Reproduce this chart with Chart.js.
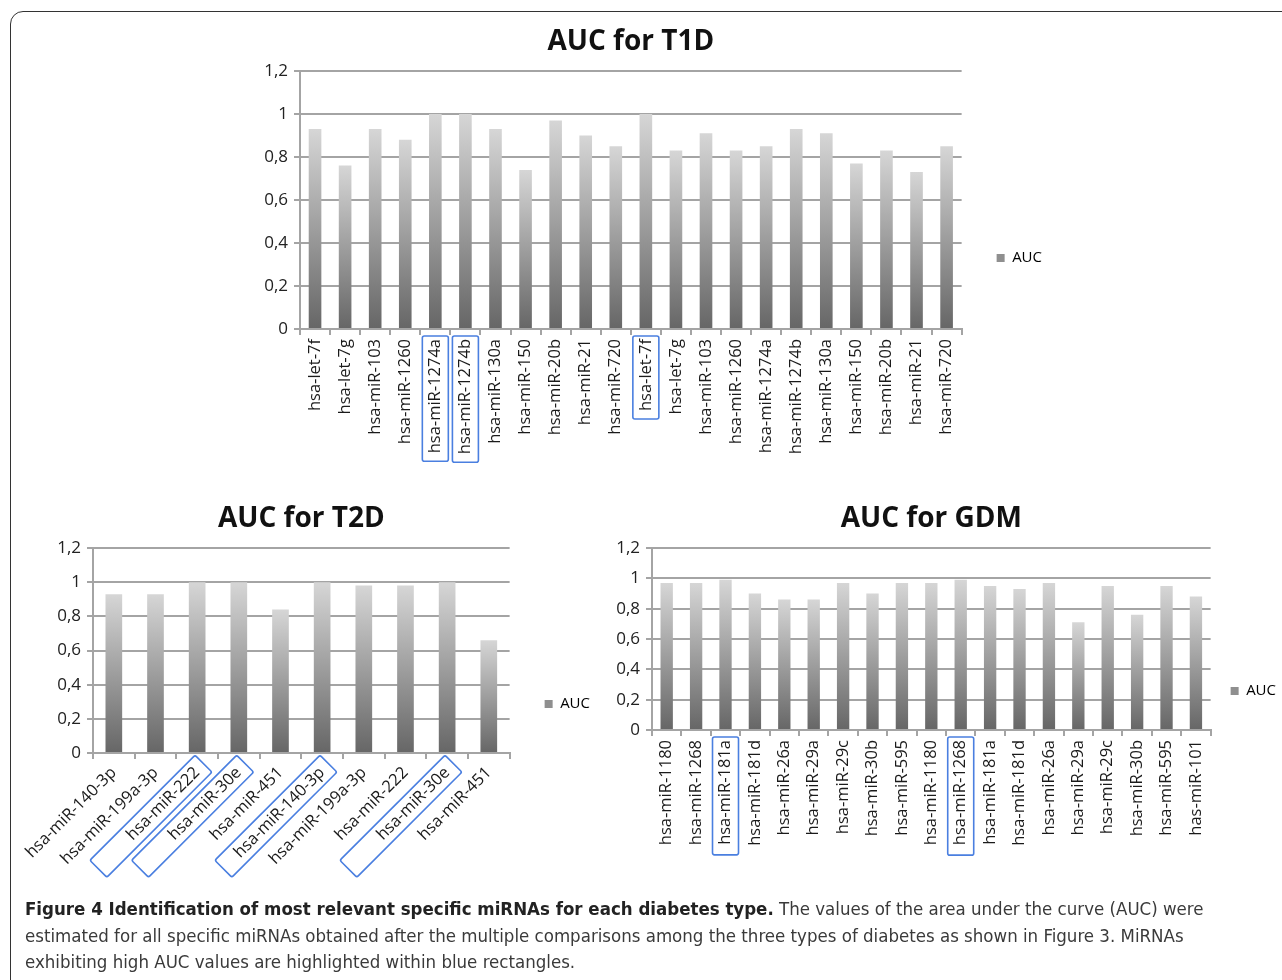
<!DOCTYPE html>
<html>
<head>
<meta charset="utf-8">
<script src="https://cdn.jsdelivr.net/npm/chart.js@4.4.1/dist/chart.umd.min.js"></script>
<style>
  html, body { margin: 0; padding: 0; background: #fff; overflow: hidden; width: 1282px; height: 980px; }
  .frame { position: absolute; left: 10px; top: 11px; width: 1320px; height: 1020px;
           border: 1.5px solid #333; border-radius: 13px; }
  canvas { position: absolute; }
  #caption { position: absolute; left: 25px; top: 896px; width: 1250px;
             font-family: "Liberation Sans Narrow", "DejaVu Sans Condensed", sans-serif;
             font-size: 18.5px; line-height: 26.5px; color: #3a3a3a; white-space: nowrap; }
  #caption b { color: #222; }
</style>
</head>
<body>
<div class="frame"></div>
<canvas id="t1d" width="802" height="476" style="left:250px; top:20px;"></canvas>
<canvas id="t2d" width="579" height="408" style="left:21px; top:500px;"></canvas>
<canvas id="gdm" width="694" height="382" style="left:592px; top:500px;"></canvas>
<div id="caption">
  <b>Figure 4 Identification of most relevant specific miRNAs for each diabetes type.</b> The values of the area under the curve (AUC) were<br>
  estimated for all specific miRNAs obtained after the multiple comparisons among the three types of diabetes as shown in Figure 3. MiRNAs<br>
  exhibiting high AUC values are highlighted within blue rectangles.
</div>
<script>
// tick labels of the value axis (comma decimals as in the figure)
const yTickLabels = ['0', '0,2', '0,4', '0,6', '0,8', '1', '1,2'];

const t1dLabels = ['hsa-let-7f', 'hsa-let-7g', 'hsa-miR-103', 'hsa-miR-1260', 'hsa-miR-1274a', 'hsa-miR-1274b',
    'hsa-miR-130a', 'hsa-miR-150', 'hsa-miR-20b', 'hsa-miR-21', 'hsa-miR-720',
    'hsa-let-7f', 'hsa-let-7g', 'hsa-miR-103', 'hsa-miR-1260', 'hsa-miR-1274a', 'hsa-miR-1274b',
    'hsa-miR-130a', 'hsa-miR-150', 'hsa-miR-20b', 'hsa-miR-21', 'hsa-miR-720'];
const t1dValues = [0.93, 0.76, 0.93, 0.88, 1.0, 1.0, 0.93, 0.74, 0.97, 0.90, 0.85,
    1.0, 0.83, 0.91, 0.83, 0.85, 0.93, 0.91, 0.77, 0.83, 0.73, 0.85];
const t1dHighlight = [4, 5, 11];

const t2dLabels = ['hsa-miR-140-3p', 'hsa-miR-199a-3p', 'hsa-miR-222', 'hsa-miR-30e', 'hsa-miR-451',
    'hsa-miR-140-3p', 'hsa-miR-199a-3p', 'hsa-miR-222', 'hsa-miR-30e', 'hsa-miR-451'];
const t2dValues = [0.93, 0.93, 1.0, 1.0, 0.84, 1.0, 0.98, 0.98, 1.0, 0.66];
const t2dHighlight = [2, 3, 5, 8];

const gdmLabels = ['hsa-miR-1180', 'hsa-miR-1268', 'hsa-miR-181a', 'hsa-miR-181d', 'hsa-miR-26a', 'hsa-miR-29a',
    'hsa-miR-29c', 'hsa-miR-30b', 'hsa-miR-595', 'hsa-miR-1180', 'hsa-miR-1268', 'hsa-miR-181a',
    'hsa-miR-181d', 'hsa-miR-26a', 'hsa-miR-29a', 'hsa-miR-29c', 'hsa-miR-30b', 'hsa-miR-595', 'has-miR-101'];
const gdmValues = [0.97, 0.97, 0.99, 0.90, 0.86, 0.86, 0.97, 0.90, 0.97, 0.97, 0.99, 0.95,
    0.93, 0.97, 0.71, 0.95, 0.76, 0.95, 0.88];
const gdmHighlight = [2, 10];

const FONT = '"Open Sans", "DejaVu Sans", sans-serif';
const GRID = '#a4a4a4';

// blue boxes drawn around the highlighted tick labels
const highlightPlugin = {
    id: 'highlight',
    afterDraw(chart, args, opts) {
        const scale = chart.scales.x;
        const items = scale.getLabelItems();
        const ctx = chart.ctx;
        let maxW = 0;
        items.forEach(it => {
            ctx.font = it.font.string;
            maxW = Math.max(maxW, ctx.measureText(it.label).width);
        });
        items.forEach((it, i) => {
            if (!opts.indices.includes(i)) return;
            ctx.save();
            ctx.font = it.font.string;
            const w = opts.fixed ? maxW : ctx.measureText(it.label).width;
            ctx.translate(it.options.translation[0], it.options.translation[1]);
            ctx.rotate(it.options.rotation);
            ctx.strokeStyle = '#4a7fe0';
            ctx.lineWidth = 1.6;
            const h = opts.thick;
            ctx.beginPath();
            ctx.roundRect(-w - opts.padEnd, it.textOffset - h / 2, w + opts.padEnd + opts.padStart, h, 2);
            ctx.stroke();
            ctx.restore();
        });
    }
};

function barGradient(c) {
    const chart = c.chart;
    if (!chart.chartArea || c.raw === undefined) return '#999';
    const y = chart.scales.y;
    const top = y.getPixelForValue(c.raw);
    const bot = y.getPixelForValue(0);
    const g = chart.ctx.createLinearGradient(0, top, 0, bot);
    g.addColorStop(0, '#d6d6d6');
    g.addColorStop(1, '#666666');
    return g;
}

function makeChart(id, labels, values, highlight, cfg) {
    return new Chart(document.getElementById(id), {
        type: 'bar',
        data: {
            labels: labels,
            datasets: [{
                label: 'AUC',
                data: values,
                backgroundColor: barGradient,
                borderWidth: 0,
                categoryPercentage: 1,
                barPercentage: cfg.barPct
            }]
        },
        plugins: [highlightPlugin],
        options: {
            responsive: false,
            animation: false,
            devicePixelRatio: 1,
            layout: { padding: 0 },
            plugins: {
                title: {
                    display: true,
                    text: cfg.title,
                    fullSize: false,
                    color: '#111',
                    font: { family: FONT, size: 28, weight: 'bold', lineHeight: 1.2 },
                    padding: { top: cfg.titleTop, bottom: cfg.titleBottom }
                },
                legend: {
                    position: 'right',
                    labels: {
                        boxWidth: 8,
                        boxHeight: 8,
                        padding: cfg.legendPad,
                        color: '#333',
                        font: { family: FONT, size: 15 },
                        generateLabels: () => [{ text: 'AUC', fillStyle: '#8f8f8f', strokeStyle: '#8f8f8f', lineWidth: 0, datasetIndex: 0 }]
                    }
                },
                tooltip: { enabled: false },
                highlight: { indices: highlight, fixed: cfg.fixedBox, padStart: cfg.padStart, padEnd: cfg.padEnd, thick: cfg.thick }
            },
            scales: {
                x: {
                    afterFit: s => { s.height = cfg.xHeight; },
                    grid: { offset: true, drawOnChartArea: false, color: GRID, lineWidth: 2, tickLength: 6 },
                    border: { color: GRID, width: 2 },
                    ticks: {
                        autoSkip: false,
                        minRotation: cfg.rot,
                        maxRotation: cfg.rot,
                        padding: 4,
                        color: '#1a1a1a',
                        font: { family: FONT, size: 16.5 }
                    }
                },
                y: {
                    min: 0,
                    max: 1.2,
                    afterFit: s => { s.width = cfg.yWidth; },
                    grid: { color: GRID, lineWidth: 2, tickLength: 6 },
                    border: { color: GRID, width: 2 },
                    ticks: {
                        stepSize: 0.2,
                        padding: 6,
                        color: '#222',
                        font: { family: FONT, size: 17 },
                        callback: v => yTickLabels[Math.round(v / 0.2)]
                    }
                }
            }
        }
    });
}

makeChart('t1d', t1dLabels, t1dValues, t1dHighlight, {
    title: 'AUC for T1D', titleTop: 5.2, titleBottom: 12.2, legendPad: 35,
    xHeight: 167, yWidth: 50, rot: 90, barPct: 0.42,
    fixedBox: false, padStart: 3, padEnd: 8, thick: 26
});
makeChart('t2d', t2dLabels, t2dValues, t2dHighlight, {
    title: 'AUC for T2D', titleTop: 2.2, titleBottom: 12.2, legendPad: 35,
    xHeight: 155, yWidth: 70, rot: 45, barPct: 0.4,
    fixedBox: true, padStart: 9, padEnd: 10, thick: 24
});
makeChart('gdm', gdmLabels, gdmValues, gdmHighlight, {
    title: 'AUC for GDM', titleTop: 2.2, titleBottom: 12.2, legendPad: 20,
    xHeight: 152, yWidth: 60, rot: 90, barPct: 0.42,
    fixedBox: false, padStart: 3, padEnd: 10, thick: 26
});
</script>
</body>
</html>
